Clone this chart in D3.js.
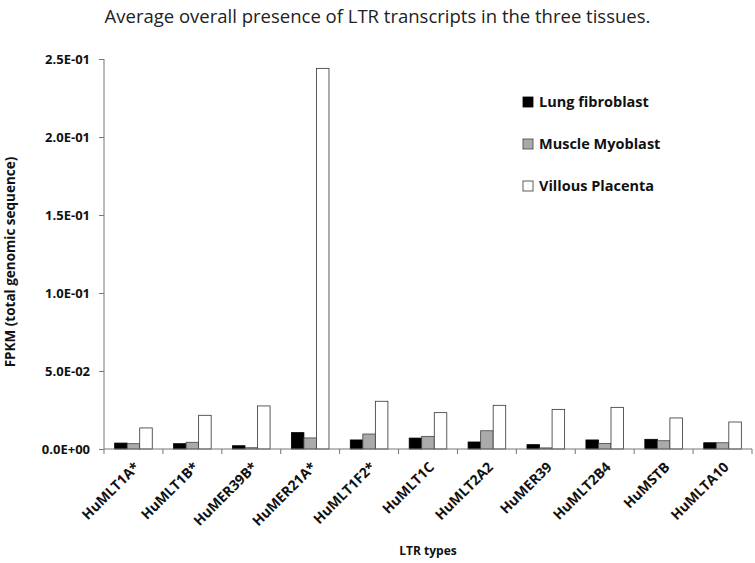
<!DOCTYPE html>
<html lang="en">
<head>
<meta charset="UTF-8">
<title>LTR transcripts</title>
<style>
  body { margin: 0; background: #fff; }
  text { font-family: "Open Sans", "DejaVu Sans", sans-serif; }
  .axis path, .axis line { stroke: #777; }
  .axis text { font-weight: bold; fill: #111; }
</style>
</head>
<body>
<script src="https://d3js.org/d3.v7.min.js"></script>
<script>
const categories = ['HuMLT1A*', 'HuMLT1B*', 'HuMER39B*', 'HuMER21A*', 'HuMLT1F2*',
  'HuMLT1C', 'HuMLT2A2', 'HuMER39', 'HuMLT2B4', 'HuMSTB', 'HuMLTA10'];
const seriesNames = ['Lung fibroblast', 'Muscle Myoblast', 'Villous Placenta'];
const lungFibroblast = [0.0038, 0.0034, 0.0021, 0.0105, 0.0058, 0.0070, 0.0045, 0.0028, 0.0058, 0.0062, 0.0040];
const muscleMyoblast = [0.0034, 0.0043, 0.0008, 0.0071, 0.0096, 0.0081, 0.0117, 0.0007, 0.0036, 0.0053, 0.0040];
const villousPlacenta = [0.0135, 0.0216, 0.0276, 0.2440, 0.0306, 0.0233, 0.0280, 0.0254, 0.0267, 0.0199, 0.0173];
const yTicks = [0, 0.05, 0.10, 0.15, 0.20, 0.25];

const fills = ['#000000', '#aaaaaa', '#ffffff'];
const strokes = ['#000000', '#444444', '#333333'];

const W = 755, H = 563;
const margin = { top: 59, right: 3, bottom: 114, left: 104 };
const width = W - margin.left - margin.right;
const height = H - margin.top - margin.bottom;

const svg = d3.select('body').append('svg')
  .attr('width', W)
  .attr('height', H);

svg.append('text')
  .attr('x', W / 2)
  .attr('y', 23)
  .attr('text-anchor', 'middle')
  .attr('font-size', '18.5px')
  .attr('fill', '#222')
  .text('Average overall presence of LTR transcripts in the three tissues.');

const g = svg.append('g')
  .attr('transform', `translate(${margin.left},${margin.top})`);

const x = d3.scaleBand().domain(categories).range([0, width]);
const xInner = d3.scaleBand().domain(seriesNames)
  .range([0, x.bandwidth()]).paddingOuter(0.85).paddingInner(0);
const y = d3.scaleLinear().domain([0, 0.25]).range([height, 0]);

const allSeries = [lungFibroblast, muscleMyoblast, villousPlacenta];

const groups = g.selectAll('.cat')
  .data(categories)
  .enter().append('g')
  .attr('transform', d => `translate(${x(d)},0)`);

groups.selectAll('rect')
  .data((c, i) => seriesNames.map((s, k) => ({ s, k, v: allSeries[k][i] })))
  .enter().append('rect')
  .attr('x', d => xInner(d.s))
  .attr('width', xInner.bandwidth())
  .attr('y', d => y(d.v))
  .attr('height', d => height - y(d.v))
  .attr('fill', d => fills[d.k])
  .attr('stroke', d => strokes[d.k])
  .attr('stroke-width', 0.8);

// y axis
const yAxis = g.append('g')
  .attr('class', 'axis')
  .call(d3.axisLeft(y).tickValues(yTicks).tickSize(5).tickPadding(9)
    .tickFormat(d => d.toExponential(1).replace('e', 'E').replace(/E([+-])(\d)$/, 'E$10$2')));
yAxis.selectAll('text').attr('font-size', '13px');
yAxis.select('.domain').attr('d', `M0,0V${height}`);

// x axis with ticks at band boundaries
const xAxis = g.append('g')
  .attr('class', 'axis')
  .attr('transform', `translate(0,${height})`);
xAxis.append('line')
  .attr('x1', 0).attr('x2', width)
  .attr('stroke', '#777');
xAxis.selectAll('.tk')
  .data(categories.concat(['end']))
  .enter().append('line')
  .attr('x1', (d, i) => i < categories.length ? x(d) : width)
  .attr('x2', (d, i) => i < categories.length ? x(d) : width)
  .attr('y1', 0).attr('y2', 5)
  .attr('stroke', '#777');
xAxis.selectAll('.lbl')
  .data(categories)
  .enter().append('text')
  .attr('transform', d => `translate(${x(d) + x.bandwidth() / 2 + 7},${19}) rotate(-45)`)
  .attr('text-anchor', 'end')
  .attr('font-size', '14px')
  .attr('font-weight', 'bold')
  .attr('fill', '#111')
  .text(d => d);

// axis titles
svg.append('text')
  .attr('transform', `translate(15,${margin.top + height / 2 + 8}) rotate(-90)`)
  .attr('text-anchor', 'middle')
  .attr('font-size', '13.5px')
  .attr('font-weight', 'bold')
  .attr('fill', '#111')
  .text('FPKM (total genomic sequence)');

svg.append('text')
  .attr('x', 428)
  .attr('y', 555)
  .attr('text-anchor', 'middle')
  .attr('font-size', '12px')
  .attr('font-weight', 'bold')
  .attr('fill', '#111')
  .text('LTR types');

// legend
const legend = svg.append('g')
  .attr('transform', 'translate(523,97)');
const items = legend.selectAll('g')
  .data(seriesNames)
  .enter().append('g')
  .attr('transform', (d, i) => `translate(0,${i * 42})`);
items.append('rect')
  .attr('width', 10).attr('height', 10)
  .attr('fill', (d, i) => fills[i])
  .attr('stroke', (d, i) => strokes[i])
  .attr('stroke-width', 0.8);
items.append('text')
  .attr('x', 16).attr('y', 10)
  .attr('font-size', '14.5px')
  .attr('font-weight', 'bold')
  .attr('fill', '#111')
  .text(d => d);
</script>
</body>
</html>
